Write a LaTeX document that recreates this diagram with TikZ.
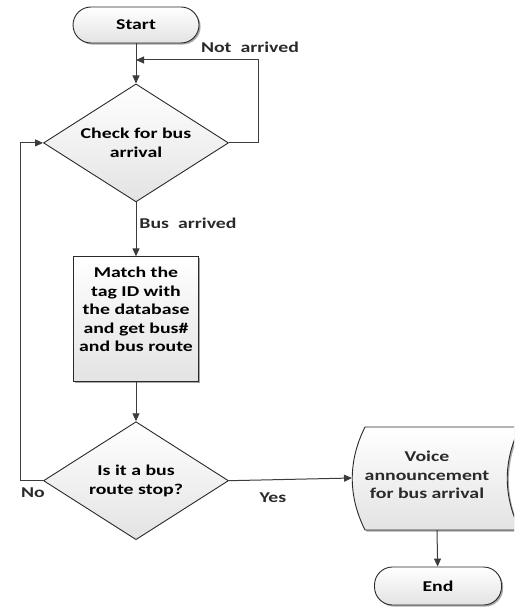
\documentclass[tikz,border=0pt]{standalone}
\usepackage{fontspec}
\setmainfont{Carlito}[FakeStretch=1.32]
\usetikzlibrary{arrows.meta,positioning,shapes.geometric,shadows}
\definecolor{ink}{HTML}{3C3C3C}
\definecolor{edge}{HTML}{2A2A2A}
\tikzset{
  shaded/.style={draw=edge,line width=0.9pt,top color=white,bottom color=gray!22,
    font=\fontsize{15}{18.5}\selectfont\bfseries},
  drop/.style={drop shadow={shadow xshift=1.6pt,shadow yshift=-1.6pt,fill=gray!75,opacity=.9}},
  terminal/.style={shaded,drop,rectangle,rounded corners=18pt,minimum width=126pt,minimum height=36pt},
  decision/.style={shaded,diamond,aspect=1.57,minimum width=185pt,minimum height=118pt,
    inner sep=0pt,align=center},
  process/.style={shaded,drop,rectangle,minimum width=125pt,minimum height=125pt,align=center,
    text depth=20pt},
  note/.style={font=\fontsize{15}{18}\selectfont\bfseries,text=edge},
  arrow/.style={-{Triangle[length=8pt,width=7pt]},line width=1pt,draw=ink},
  plain/.style={line width=1pt,draw=ink}
}
\begin{document}
\begin{tikzpicture}[x=1pt,y=-1pt]
\useasboundingbox (0,0) rectangle (514,607);
\clip (0,0) rectangle (514,607);
% main column
\node[terminal] (start) at (136,25) {Start};
\node[decision,below=40pt of start] (check) {Check for bus\\arrival};
\node[process,below=54pt of check] (match) {Match the\\tag ID with\\the database\\and get bus\#\\and bus route};
\node[decision,below=39pt of match] (stop) {Is it a bus\\route stop?};
% output side
\path[shaded,drop] (365,427) -- (520,427) .. controls (503,461) and (503,496) .. (520,530)
  -- (365,530) .. controls (348,496) and (348,461) .. cycle;
\coordinate (voice in) at (352,478);
\coordinate (voice out) at (437,530);
\node[font=\fontsize{15}{18.5}\selectfont\bfseries,align=center,text=edge] (voice) at (427,475)
  {Voice\\announcement\\for bus arrival};
\node[terminal,minimum width=127pt,minimum height=38pt] (end) at (438,586) {End};
% connectors
\coordinate (loop) at (258,60);
\coordinate (merge) at (start.south |- loop);
\draw[arrow] (start) -- (check);
\draw[arrow] (check.east) -| (loop) -- (merge);
\draw[arrow] (check) -- (match);
\draw[arrow] (match) -- (stop);
\draw[arrow] (stop.west) -- ++(-23,0) |- (check.west);
\draw[arrow] (stop.east) -- (voice in);
\draw[arrow] (voice out) -- (end);
% labels
\node[note] (notarrived) at (250,47) {Not~ arrived};
\node[note] (busarrived) at (188,223) {Bus~ arrived};
\node[note] (no) at (33,493) {No};
\node[note] (yes) at (273,498) {Yes};
\end{tikzpicture}
\end{document}
